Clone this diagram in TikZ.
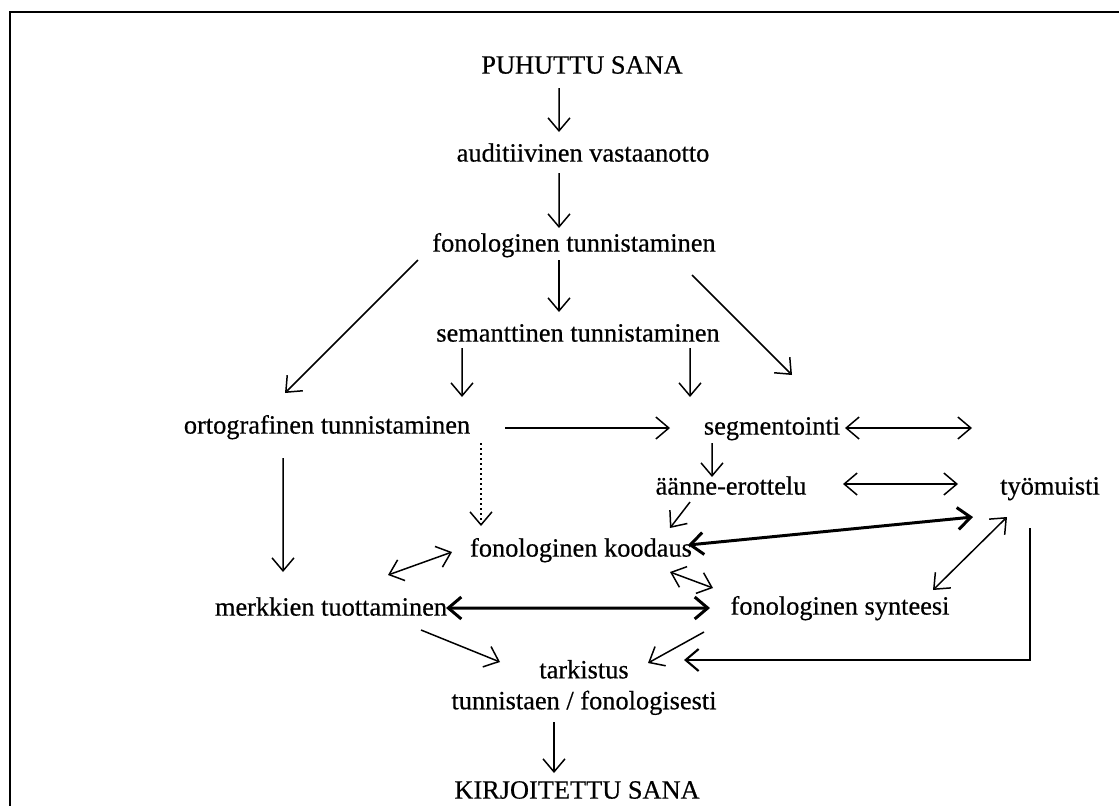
\documentclass[tikz,border=0pt]{standalone}
\usepackage{fontspec}
\setmainfont{Liberation Serif}[FakeBold=0.5]
\usetikzlibrary{arrows.meta}

\begin{document}
\begin{tikzpicture}[x=1cm,y=1cm,font=\fontsize{15}{17.6}\selectfont,
    >={Straight Barb[length=2.6mm,width=4.4mm]},
    lbl/.style={text height=11pt,text depth=3.5pt,inner xsep=2pt,inner ysep=4.5pt},
    arr/.style={->,line width=.85pt},
    darr/.style={<->,line width=.85pt},
    tarr/.style={<->,line width=1.7pt}]
    \useasboundingbox (0,0) rectangle (22.38,-16.1);
    % Rahmen
    \draw[line width=1.7pt] (0.2,-16.3) -- (0.2,-0.24) -- (22.6,-0.24);
    \node[lbl] (ps) at (11.64,-1.34) {PUHUTTU SANA};
    \node[lbl] (av) at (11.66,-3.10) {auditiivinen vastaanotto};
    \node[lbl] (ft) at (11.48,-4.90) {fonologinen tunnistaminen};
    \node[lbl] (st) at (11.56,-6.70) {semanttinen tunnistaminen};
    \node[lbl] (ot) at (6.54,-8.54) {ortografinen tunnistaminen};
    \node[lbl] (sg) at (15.44,-8.56) {segmentointi};
    \node[lbl] (ae) at (14.62,-9.76) {äänne-erottelu};
    \node[lbl] (tm) at (21.00,-9.76) {työmuisti};
    \node[lbl] (fk) at (11.62,-11.00) {fonologinen koodaus};
    \node[lbl] (mt) at (6.62,-12.18) {merkkien tuottaminen};
    \node[lbl] (fs) at (16.80,-12.16) {fonologinen synteesi};
    \node[align=center] (tk) at (11.68,-13.75) {tarkistus\\tunnistaen / fonologisesti};
    \node[lbl] (ks) at (11.54,-15.84) {KIRJOITETTU SANA};
    \coordinate (sgfree) at (19.44,-8.56);
    % Hauptpfad
    \draw[arr] ([shift={(-0.46,-0.42)}]ps.center) -- ([shift={(-0.48,0.46)}]av.center);
    \draw[arr] ([shift={(-0.48,-0.36)}]av.center) -- ([shift={(-0.30,0.34)}]ft.center);
    \draw[arr] ([shift={(-0.30,-0.30)}]ft.center) -- ([shift={(-0.38,0.46)}]st.center);
    \draw[arr] ([shift={(-3.12,-0.30)}]ft.center) -- ([shift={(-0.84,0.68)}]ot.center);
    \draw[arr] ([shift={(2.36,-0.60)}]ft.center) -- ([shift={(0.40,1.06)}]sg.center);
    \draw[arr] ([shift={(-2.32,-0.26)}]st.center) -- ([shift={(2.70,0.60)}]ot.center);
    \draw[arr] ([shift={(2.24,-0.26)}]st.center) -- ([shift={(-1.64,0.62)}]sg.center);
    \draw[arr] ([shift={(3.56,-0.02)}]ot.center) -- ([shift={(-2.04,0)}]sg.center);
    \draw[darr] ([shift={(1.46,0)}]sg.center) -- (sgfree);
    \draw[arr] ([shift={(-1.20,-0.30)}]sg.center) -- ([shift={(-0.38,0.22)}]ae.center);
    \draw[darr] ([shift={(2.24,0.08)}]ae.center) -- ([shift={(-1.84,0.08)}]tm.center);
    \draw[arr] ([shift={(-0.82,-0.28)}]ae.center) -- ([shift={(1.78,0.44)}]fk.center);
    \draw[arr] ([shift={(-0.88,-0.62)}]ot.center) -- ([shift={(-0.96,0.74)}]mt.center);
    \draw[arr,dotted] ([shift={(3.08,-0.32)}]ot.center) -- ([shift={(-2.00,0.48)}]fk.center);
    % Arbeitsgedaechtnis
    \draw[tarr] ([shift={(-1.54,-0.58)}]tm.center) -- ([shift={(2.14,0.10)}]fk.center);
    \draw[darr] ([shift={(1.14,0.68)}]mt.center) -- ([shift={(-2.58,-0.04)}]fk.center);
    \draw[darr] ([shift={(1.78,-0.44)}]fk.center) -- ([shift={(-2.54,0.40)}]fs.center);
    \draw[darr] ([shift={(-0.86,-0.58)}]tm.center) -- ([shift={(1.86,0.36)}]fs.center);
    \draw[tarr] ([shift={(2.30,0.02)}]mt.center) -- ([shift={(-2.60,0)}]fs.center);
    % Kontrolle
    \draw[arr] ([shift={(1.80,-0.42)}]mt.center) -- ([shift={(-1.68,0.51)}]tk.center);
    \draw[arr] ([shift={(-2.72,-0.48)}]fs.center) -- ([shift={(1.28,0.49)}]tk.center);
    \draw[arr,line width=1.2pt] ([shift={(-0.40,-0.80)}]tm.center) |- ([shift={(2.00,0.55)}]tk.center);
    \draw[arr] ([shift={(-0.60,-0.69)}]tk.center) -- ([shift={(-0.46,0.38)}]ks.center);
  \end{tikzpicture}
\end{document}
